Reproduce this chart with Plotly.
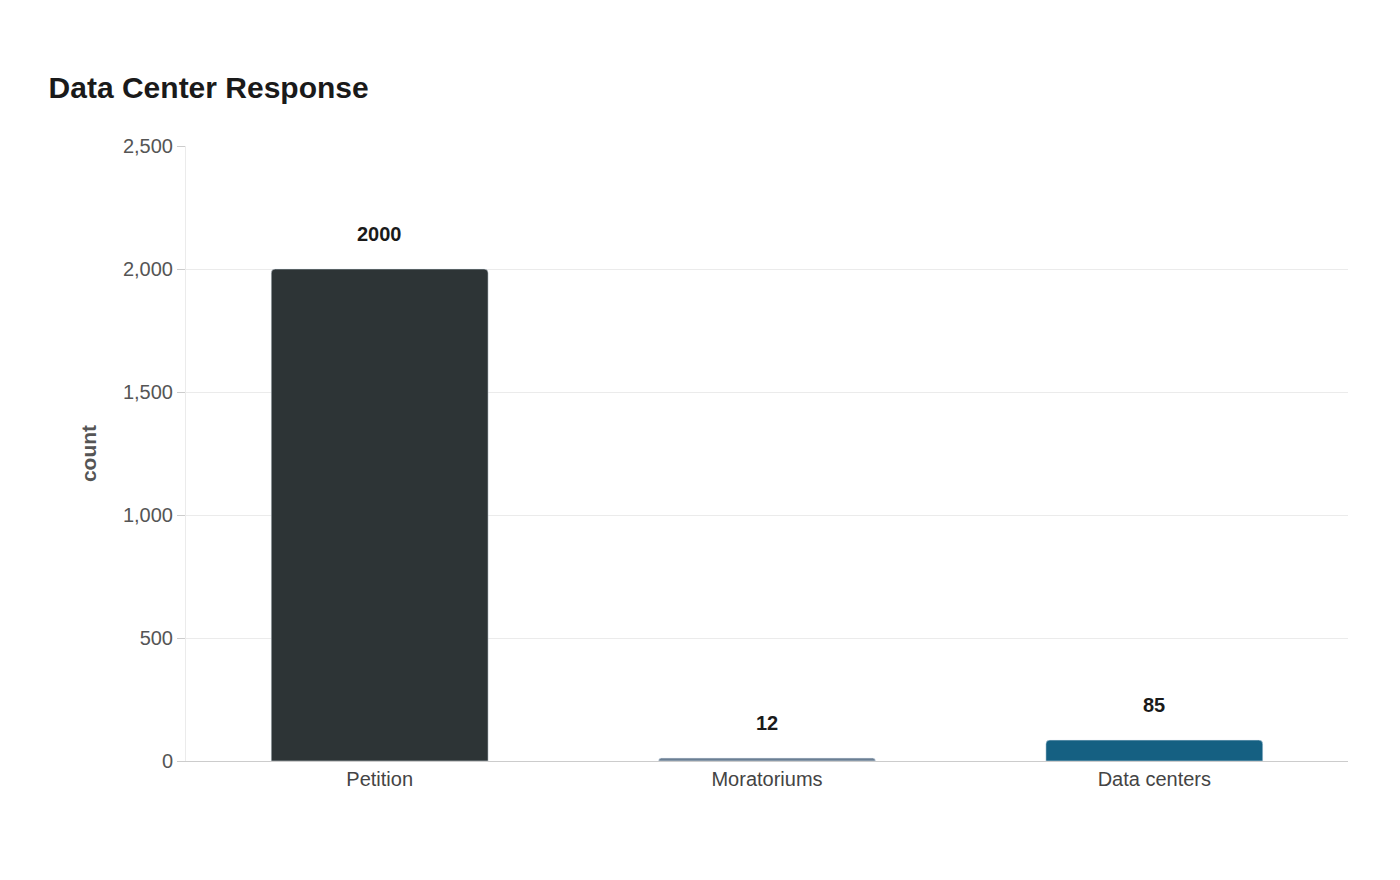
import plotly.graph_objects as go

categories = ["Petition", "Moratoriums", "Data centers"]
counts = [2000, 12, 85]
bar_colors = ["#2d3436", "#6b7f93", "#156082"]

fig = go.Figure()
fig.add_trace(go.Bar(x=categories, y=counts, marker_color=bar_colors,
                     marker_cornerradius=4, width=0.56, showlegend=False))

for c, v in zip(categories, counts):
    fig.add_annotation(x=c, y=v, text=f"<b>{v}</b>", showarrow=False,
                       yshift=22, yanchor="bottom",
                       font=dict(size=20, color="#1a1a1a"))

fig.update_layout(
    width=1400, height=880,
    paper_bgcolor="white", plot_bgcolor="white",
    font=dict(family="Liberation Sans, Arial", size=20, color="#555"),
    margin=dict(l=178, r=60, t=138, b=127),
    title=dict(text="<b>Data Center Response</b>", x=0.029, xanchor="left",
               y=0.91, yanchor="middle", font=dict(size=30, color="#1a1a1a")),
)
fig.update_xaxes(showgrid=False, showline=True, linecolor="#cccccc",
                 tickfont=dict(size=20, color="#444"), ticks="", ticklen=10,
                 tickcolor="white")
fig.update_yaxes(range=[0, 2500], dtick=500, tickformat=",",
                 gridcolor="#ebebeb", showline=True, linecolor="#ebebeb",
                 zeroline=False, ticks="outside", ticklen=8, tickcolor="#cccccc",
                 title=dict(text="<b>count</b>", standoff=20,
                            font=dict(size=21, color="#555")),
                 tickfont=dict(size=20, color="#555"))

fig.write_html("out.html")
